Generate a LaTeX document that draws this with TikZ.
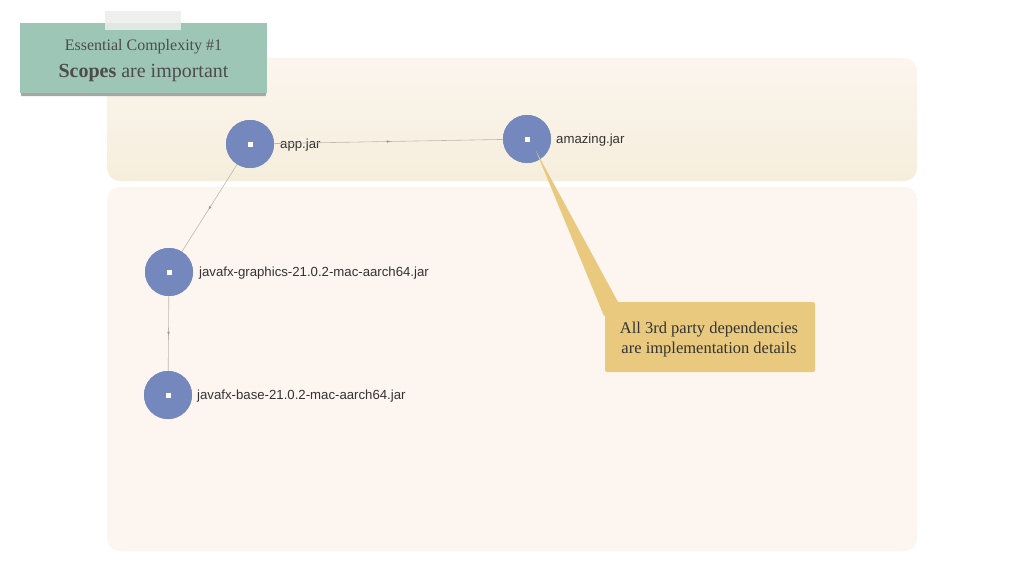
\documentclass[tikz,border=0pt]{standalone}
\usepackage{fontspec}
\setmainfont{Liberation Serif}
\setsansfont{Liberation Sans}
\usetikzlibrary{decorations.markings}
\definecolor{topA}{HTML}{FBF5EE}
\definecolor{topB}{HTML}{F6EEDC}
\definecolor{botP}{HTML}{FCF5F0}
\definecolor{jarblue}{HTML}{7488BD}
\definecolor{edgegray}{HTML}{BDB8B0}
\definecolor{callout}{HTML}{E8C97E}
\definecolor{teal}{HTML}{9EC6B7}
\definecolor{tape}{HTML}{ECEEEC}
\definecolor{txtdark}{HTML}{333333}
\tikzset{
  panel/.style={rounded corners=13pt},
  jar/.style={circle, fill=jarblue, minimum size=48pt, inner sep=0pt},
  jarlabel/.style={anchor=west, font=\sffamily\fontsize{13.2}{15}\selectfont, text=txtdark, inner sep=0pt},
  dep/.style={draw=edgegray, line width=0.6pt,
    postaction={decorate, decoration={markings, mark=at position 0.5 with {\fill[gray!80] (1.6pt,0) -- (-1.6pt,1.3pt) -- (-1.6pt,-1.3pt) -- cycle;}}}},
  dot/.style={fill=white, minimum size=5pt, inner sep=0pt},
}
\begin{document}
\begin{tikzpicture}[x=1pt,y=-1pt]
\useasboundingbox[fill=white] (0,0) rectangle (1024,576);
% panels
\shade[panel, top color=topA, bottom color=topB] (107,58) rectangle (917,181);
\fill[panel, botP] (107,187) rectangle (917,551);
% title card
\fill[gray!70, rounded corners=1pt] (21,88) rectangle (266,96);
\fill[teal] (20,23) rectangle (267,93);
\fill[tape, opacity=0.85] (105,11) rectangle (181,30);
\node[font=\fontsize{16}{18}\selectfont, text=black!70] (t1) at (143.5,47) {Essential Complexity \#1};
\node[font=\fontsize{20}{22}\selectfont, text=black!70] (t2) at (143.5,73.5) {\textbf{Scopes} are important};
% nodes
\node[jar] (app) at (250,144) {};
\node[jar] (amz) at (527,139) {};
\node[jar] (gfx) at (169,272) {};
\node[jar] (base) at (168,395) {};
\node[jarlabel] (appl) at (280,145) {app.jar};
\node[jarlabel] (amzl) at (556,140) {amazing.jar};
\node[jarlabel] (gfxl) at (199,273) {javafx-graphics-21.0.2-mac-aarch64.jar};
\node[jarlabel] (basel) at (197,396) {javafx-base-21.0.2-mac-aarch64.jar};
% edges
\draw[dep] (app.center) -- (amz.center);
\draw[dep] (app.center) -- (gfx.center);
\draw[dep] (gfx.center) -- (base.center);
\foreach \n in {app,amz,gfx,base} {\fill[jarblue] (\n) circle (24pt); \node[dot] at (\n) {};}
% callout
\coordinate (tip) at (536,151);
\fill[callout] (tip) -- (604,316) -- (618,302) -- cycle;
\node[fill=callout, rounded corners=2pt, minimum width=210pt, minimum height=70pt, align=center,
  font=\fontsize{16.5}{20}\selectfont, text=txtdark] (note) at (710,337) {};
\node[align=center, font=\fontsize{16.5}{20}\selectfont, text=txtdark] (notetext) at (709,340)
  {All 3rd party dependencies\\are implementation details};
\end{tikzpicture}
\end{document}
